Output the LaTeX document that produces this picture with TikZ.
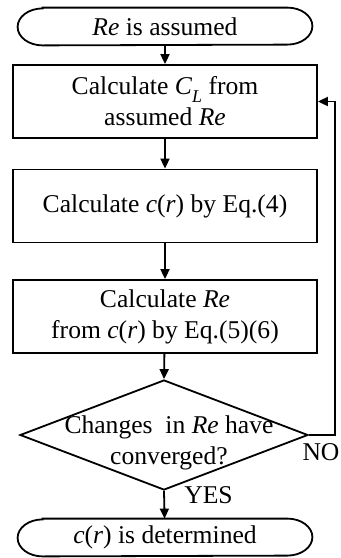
\documentclass[tikz,border=0pt]{standalone}
\usepackage{fontspec}
\setmainfont{Liberation Serif}
\usetikzlibrary{shapes.geometric,arrows.meta}
\begin{document}
\begin{tikzpicture}[x=0.5pt,y=-0.5pt,
  every node/.style={font=\fontsize{12.8}{15.5}\selectfont},
  box/.style={draw, line width=0.9pt, minimum width=152pt, minimum height=36.5pt, inner sep=0pt, align=center},
  term/.style={minimum width=122pt, minimum height=18.5pt, inner sep=0pt},
  termline/.style={line width=0.9pt},
  dec/.style={draw, line width=0.9pt, diamond, minimum width=144pt, minimum height=55pt, inner sep=0pt},
  plain/.style={inner sep=0pt, align=center},
  arr/.style={line width=0.9pt, -{Triangle[length=5pt,width=4.5pt]}},
  line/.style={line width=0.9pt}]
\useasboundingbox (0,0) rectangle (341,558);
\node[term] (t1) at (165,26.5) {\textit{Re} is assumed};
\draw[termline] (t1.north west) -- (t1.north east) arc[start angle=-90,end angle=90,x radius=25,y radius=18.5]
  -- (t1.south west) arc[start angle=90,end angle=270,x radius=25,y radius=18.5] -- cycle;
\node[box] (b1) at (165,101.5) {Calculate \textit{C}\raisebox{-0.3em}{\fontsize{9}{9}\selectfont\textit{L}} from\\assumed \textit{Re}};
\node[box] (b2) at (165,206) {Calculate \textit{c}(\textit{r}) by Eq.(4)};
\node[box] (b3) at (165,316.5) {Calculate \textit{Re}\\from \textit{c}(\textit{r}) by Eq.(5)(6)};
\node[dec] (d) at (164,435) {};
\node[plain] (dt) at (169,443) {Changes\ \ in \textit{Re} have\\converged?};
\node[term] (t2) at (165,537.5) {\textit{c}(\textit{r}) is determined};
\draw[termline] (t2.north west) -- (t2.north east) arc[start angle=-90,end angle=90,x radius=25,y radius=18.5]
  -- (t2.south west) arc[start angle=90,end angle=270,x radius=25,y radius=18.5] -- cycle;
\node[plain] (no) at (321,452) {NO};
\node[plain] (yes) at (208.5,495) {YES};
\coordinate (c1) at (335,435);
\coordinate (c2) at (335,101.5);
\draw[arr] (t1) -- (b1);
\draw[arr] (b1) -- (b2);
\draw[arr] (b2) -- (b3);
\draw[arr] (b3) -- (d.north);
\draw[arr] (d.south) -- (t2);
\draw[arr] (d.east) -- (c1) -- (c2) -- (b1.east);
\end{tikzpicture}
\end{document}
